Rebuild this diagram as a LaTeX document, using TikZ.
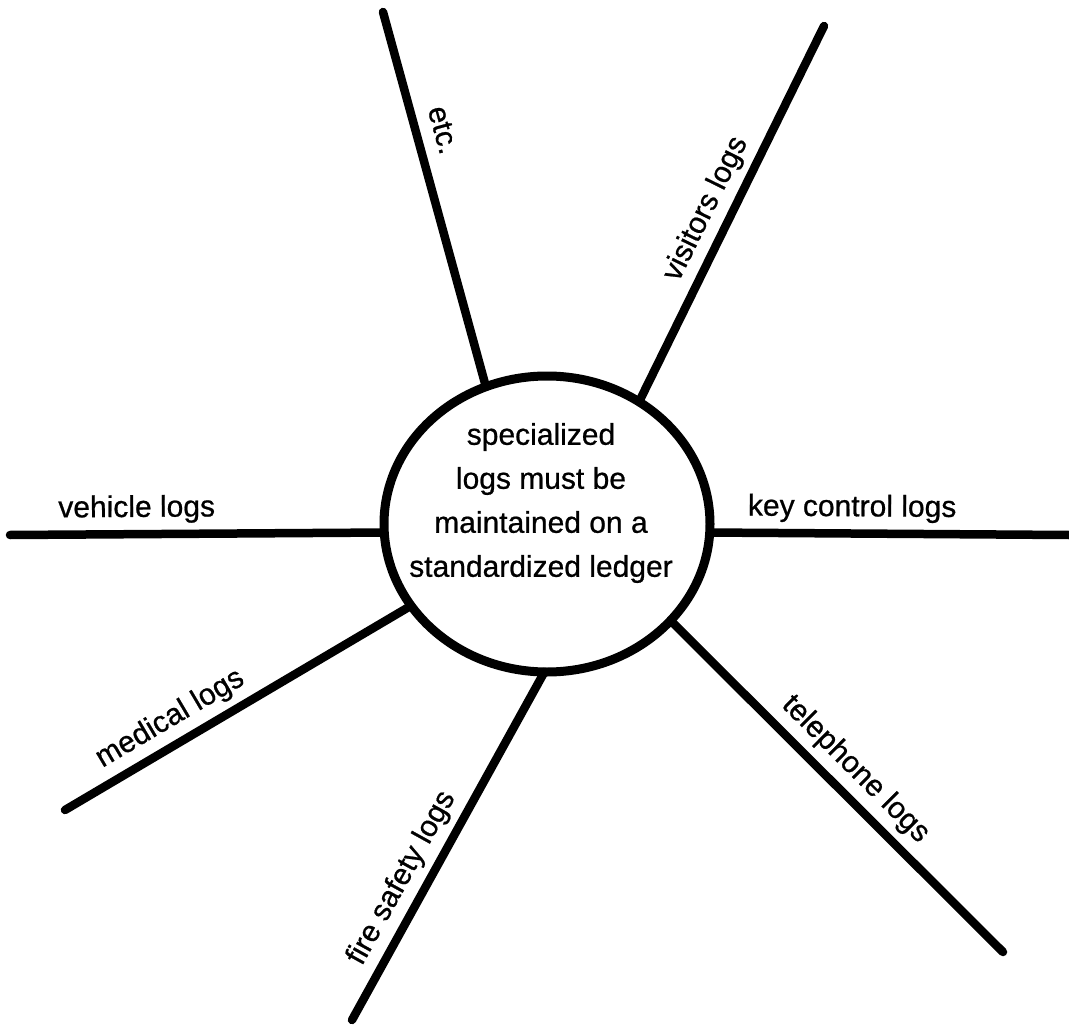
\documentclass[tikz,border=0pt]{standalone}
\usepackage{fontspec}
\setmainfont[FakeBold=0.7]{Liberation Sans}
\usetikzlibrary{shapes.geometric}

\begin{document}
\begin{tikzpicture}[x=1pt,y=-1pt,
                spoke/.style={line width=8.5pt, line cap=round},
                hubshape/.style={ellipse, draw, line width=9pt, minimum width=326pt, minimum height=296pt, inner sep=0pt, outer sep=0pt},
                hubtxt/.style={font=\fontsize{30}{44}\selectfont, align=center},
                lbl/.style={font=\fontsize{30}{36}\selectfont, inner sep=0pt, text depth=0pt, sloped, above=13pt}]
                \useasboundingbox[fill=white] (0,0) rectangle (1069,1027);
                \node[hubshape] (hub) at (547,524) {};
                \node[hubtxt] (hubtext) at (541,503) {specialized\\logs must be\\maintained on a\\standardized ledger};
                \coordinate (etcEnd) at (383,12);
                \coordinate (visitorsEnd) at (824,26);
                \coordinate (keyEnd) at (1069,535);
                \coordinate (phoneEnd) at (1003,952);
                \coordinate (fireEnd) at (352,1020);
                \coordinate (medicalEnd) at (65,810);
                \coordinate (vehicleEnd) at (10,535);
                \draw[spoke] (hub.114) -- (etcEnd) node[lbl, pos=0.666] {etc.};
                \draw[spoke] (hub.53.8) -- (visitorsEnd) node[lbl, pos=0.484] {visitors logs};
                \draw[spoke] (hub.-3.8) -- (keyEnd) node[lbl, pos=0.396] {key control logs};
                \draw[spoke] (hub.-38.4) -- (phoneEnd) node[lbl, pos=0.503] {telephone logs};
                \draw[spoke] (hub.-91.5) -- (fireEnd) node[lbl, pos=0.627] {fire safety logs};
                \draw[spoke] (hub.-149.4) -- (medicalEnd) node[lbl, pos=0.659] {medical logs};
                \draw[spoke] (hub.183.8) -- (vehicleEnd) node[lbl, pos=0.661] {vehicle logs};
            \end{tikzpicture}
\end{document}
